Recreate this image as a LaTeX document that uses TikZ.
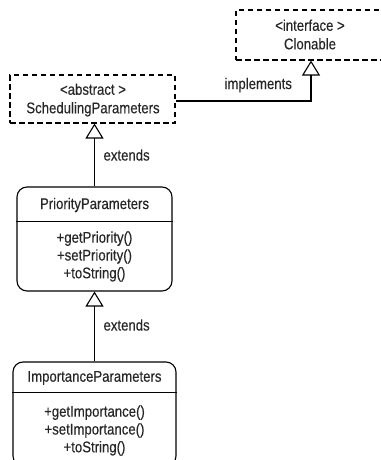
\documentclass[tikz,border=0pt]{standalone}
\usepackage{fontspec}
\setmainfont[FakeStretch=0.85,FakeBold=0.3]{Liberation Sans}
\usetikzlibrary{arrows.meta}
\begin{document}
\begin{tikzpicture}[x=1pt,y=-1pt, line width=1.1pt,
  every node/.style={font=\fontsize{15.5}{18.5}\selectfont, text=black!85},
  dbox/.style={draw, dash pattern=on 5.5pt off 3.5pt, inner sep=0pt},
  cbox/.style={draw, rounded corners=10pt, inner sep=0pt},
  txt/.style={align=center, inner sep=0pt},
  lbl/.style={inner sep=0pt, anchor=west},
  inh/.style={-{Triangle[open,length=15pt,width=18pt]}}]
\useasboundingbox (0,0) rectangle (380,460);

% boxes
\node[dbox, minimum width=150pt, minimum height=50pt] (clon) at (311,35) {};
\node[txt] (clonT) at (310,34.5) {<interface >\\Clonable};

\node[dbox, minimum width=165pt, minimum height=48pt] (abs) at (92.5,99) {};
\node[txt] (absT) at (93,100) {<abstract >\\SchedulingParameters};

\node[cbox, minimum width=155pt, minimum height=104pt] (pri) at (94.5,239) {};
\node[txt] (priT) at (94.5,205) {PriorityParameters};
\draw ([yshift=-35pt]pri.north west) -- ([yshift=-35pt]pri.north east);
\node[txt, font=\fontsize{15.5}{17.8}\selectfont] (priM) at (94.5,256.5) {+getPriority()\\+setPriority()\\+toString()};

\node[cbox, minimum width=163pt, minimum height=104pt] (imp) at (94.5,414) {};
\node[txt] (impT) at (94.5,378) {ImportanceParameters};
\draw ([yshift=-31pt]imp.north west) -- ([yshift=-31pt]imp.north east);
\node[txt, font=\fontsize{15.5}{17.8}\selectfont] (impM) at (94.5,430.5) {+getImportance()\\+setImportance()\\+toString()};

% connectors
\draw[inh] (pri.north) -- (pri.north |- abs.south);
\draw[inh] (imp.north) -- (pri.south);
\coordinate (bend) at (311,101);
\draw[inh] (abs.east |- bend) -- (bend) -- (clon.south);

% labels
\node[lbl] (l1) at (224,85) {implements};
\node[lbl] (l2) at (103,155) {extends};
\node[lbl] (l3) at (103,325) {extends};
\end{tikzpicture}
\end{document}
